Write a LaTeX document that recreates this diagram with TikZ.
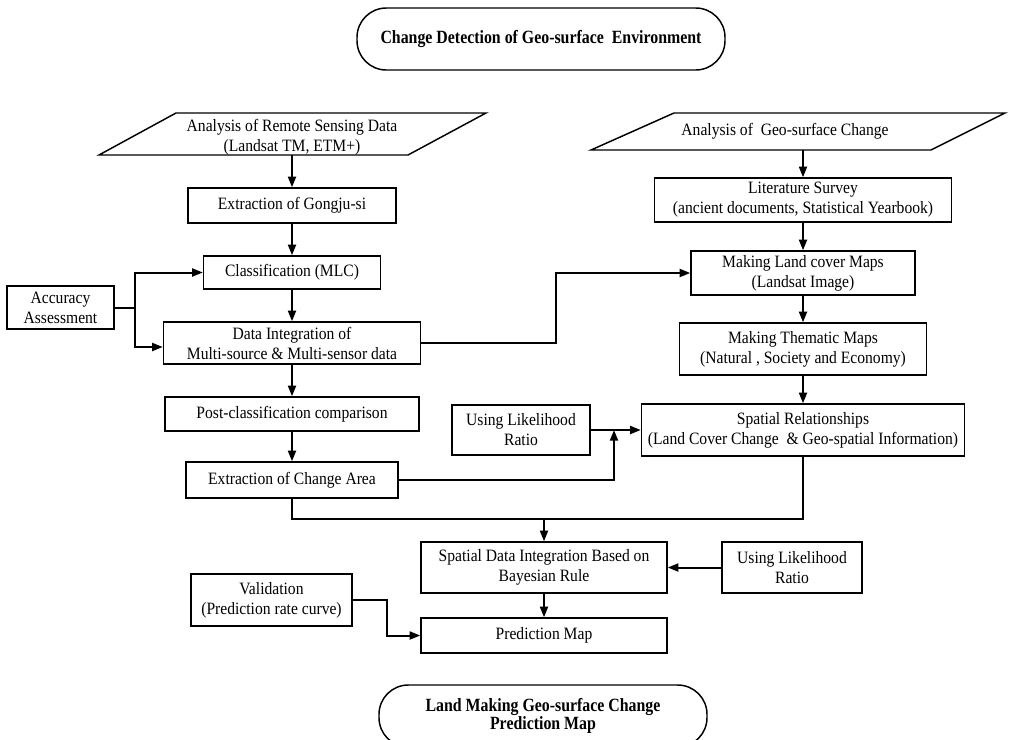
\documentclass[tikz,border=0pt]{standalone}
\usepackage{fontspec}
\setmainfont{Liberation Serif}[FakeStretch=0.9]
\newfontfamily\ttlfont{Liberation Serif}[FakeStretch=0.85]
\usetikzlibrary{arrows.meta}
\begin{document}
\begin{tikzpicture}[x=0.75pt,y=-0.75pt,
  txt/.style={font=\fontsize{13}{15}\selectfont, align=center, inner sep=1pt},
  box/.style={txt, draw, line width=1.1pt},
  sz/.style 2 args={minimum width=#1*0.75pt, minimum height=#2*0.75pt},
  conn/.style={line width=1.5pt},
  arr/.style={conn, -{Triangle[length=8pt,width=6pt]}},
  stadium/.style={draw, line width=1.1pt, rounded corners=22pt, align=center, inner sep=1pt,
    font=\ttlfont\bfseries\fontsize{14}{13.5}\selectfont},
]
\useasboundingbox (0,0) rectangle (1009,739);

% title stadiums
\node[stadium, sz={368}{62}] (t1) at (541,39) {Change Detection of Geo-surface~ Environment};
\node[stadium, sz={328}{62}] (t2) at (543,716) {Land Making Geo-surface Change\\Prediction Map};

% parallelograms
\node[txt, sz={232}{38}] (rs) at (292,137) {Analysis of Remote Sensing Data\\(Landsat TM, ETM+)};
\draw[line width=1.1pt] (99,155) -- (176,113) -- (486,113) -- (408,155) -- cycle;
\node[txt, sz={250}{37}] (ra) at (785,131.5) {Analysis of~ Geo-surface Change};
\draw[line width=1.1pt] (591,150) -- (674,113) -- (1005,113) -- (931,150) -- cycle;

% left column
\node[box, sz={208}{35}] (ext) at (292,205.5) {Extraction of Gongju-si};
\node[box, sz={177}{33}] (cls) at (292,272.5) {Classification (MLC)};
\node[box, sz={107}{43}] (acc) at (60.5,307.5) {Accuracy\\Assessment};
\node[box, sz={257}{42}] (dint) at (292,343) {Data Integration of\\Multi-source \& Multi-sensor data};
\node[box, sz={254}{34}] (post) at (292,414) {Post-classification comparison};
\node[box, sz={212}{36}] (eca) at (292,480) {Extraction of Change Area};

% right column
\node[box, sz={297}{44}] (lit) at (803,200) {Literature Survey\\(ancient documents, Statistical Yearbook)};
\node[box, sz={224}{44}] (lcm) at (803,273) {Making Land cover Maps\\(Landsat Image)};
\node[box, sz={247}{52}] (thm) at (803,349) {Making Thematic Maps\\(Natural , Society and Economy)};
\node[box, sz={323}{52}] (spr) at (803,430) {Spatial Relationships\\(Land Cover Change~ \& Geo-spatial Information)};
\node[box, sz={138}{50}] (lr1) at (521,430) {Using Likelihood\\Ratio};

% bottom
\node[box, sz={246}{51}] (sdi) at (544,567.5) {Spatial Data Integration Based on\\Bayesian Rule};
\node[box, sz={140}{51}] (lr2) at (792,567.5) {Using Likelihood\\Ratio};
\node[box, sz={246}{35}] (pm) at (544,635.5) {Prediction Map};
\node[box, sz={161}{52}] (val) at (271.5,600) {Validation\\(Prediction rate curve)};

% connectors left
\draw[arr] (rs.south |- 0,155) -- (ext.north);
\draw[arr] (ext.south) -- (cls.north);
\draw[arr] (cls.south) -- (dint.north);
\draw[arr] (dint.south) -- (post.north);
\draw[arr] (post.south) -- (eca.north);
\coordinate (aj) at (135,307.5);
\draw[conn] (acc.east) -- (aj);
\draw[arr] (aj) |- (cls.west);
\draw[arr] (aj) |- ([yshift=-3pt]dint.west);
\coordinate (b1) at (556,343);
\draw[arr] (dint.east) -- (b1) |- (lcm.west);

% connectors right
\draw[arr] (ra.south -| lit.north) -- (lit.north);
\draw[arr] (lit.south) -- (lcm.north);
\draw[arr] (lcm.south) -- (thm.north);
\draw[arr] (thm.south) -- (spr.north);
\draw[arr] (lr1.east) -- (spr.west);
\coordinate (j1) at (614,430);
\draw[arr] (eca.east) -| (j1);

% merge
\coordinate (m) at (544,519);
\draw[conn] (eca.south) |- (m) -| (spr.south);
\draw[arr] (m) -- (sdi.north);
\draw[arr] (lr2.west) -- (sdi.east);
\draw[arr] (sdi.south) -- (pm.north);
\coordinate (v1) at (387,600);
\draw[arr] (val.east) -- (v1) |- (pm.west);
\end{tikzpicture}
\end{document}
